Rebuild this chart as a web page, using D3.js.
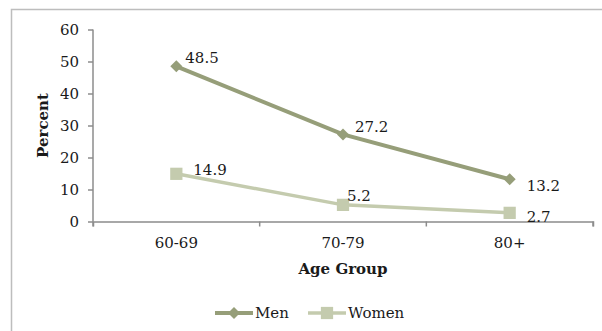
<!DOCTYPE html>
<html lang="en">
<head>
    <meta charset="UTF-8">
    <title>Percent by age group</title>
    <style>
        body { margin: 0; background: #fff; }
        text { font-family: 'DejaVu Serif', Georgia, serif; fill: #1a1a1a; }
        .axis path, .axis line { stroke: #8c8c8c; stroke-width: 1.5; fill: none; }
        .axis text { font-size: 15px; fill: #1a1a1a; }
    </style>
</head>
<body>
    <div id='chart'></div>

    <script src='https://cdnjs.cloudflare.com/ajax/libs/d3/7.8.5/d3.min.js'></script>
    <script type='text/javascript'>
        const ageGroups = ['60-69', '70-79', '80+'];
        const men = [48.5, 27.2, 13.2];
        const women = [14.9, 5.2, 2.7];
        const yTicks = [0, 10, 20, 30, 40, 50, 60];

        const width = 602;
        const height = 331;
        const margin = { top: 29.5, left: 93, right: 9, bottom: 109.5 };
        const plotW = width - margin.left - margin.right;
        const plotH = height - margin.top - margin.bottom;

        let svg = d3.select('#chart')
                    .append('svg')
                      .attr('width', width)
                      .attr('height', height);

        // outer chart frame (runs off the right and bottom edges)
        svg.append('rect')
             .attr('x', 11.5)
             .attr('y', 9.5)
             .attr('width', width + 20)
             .attr('height', height + 20)
             .attr('fill', 'none')
             .attr('stroke', '#bdbdbd')
             .attr('stroke-width', 1.5);

        let viz = svg.append('g')
                      .attr('transform', `translate(${margin.left}, ${margin.top})`);

        let xScale = d3.scaleBand().domain(ageGroups).range([0, plotW]);
        let yScale = d3.scaleLinear().domain([0, 60]).range([plotH, 0]);

        let xAxis = d3.axisBottom(xScale).tickSize(5).tickSizeOuter(5).tickFormat(() => '');
        let yAxis = d3.axisLeft(yScale).tickValues(yTicks).tickSize(5).tickSizeOuter(0);

        // X axis: ticks sit on band boundaries, labels at band centres
        let gx = viz.append('g')
             .attr('class', 'axis x-axis')
             .attr('transform', `translate(0, ${plotH})`)
             .call(xAxis);
        gx.selectAll('.tick').remove();
        const bounds = ageGroups.map(d => xScale(d)).concat([plotW]);
        gx.selectAll('line.bound')
            .data(bounds)
            .enter()
          .append('line')
            .attr('class', 'bound')
            .attr('x1', d => d).attr('x2', d => d)
            .attr('y1', 0).attr('y2', 5);
        gx.selectAll('text.lab')
            .data(ageGroups)
            .enter()
          .append('text')
            .attr('class', 'lab')
            .attr('x', d => xScale(d) + xScale.bandwidth() / 2)
            .attr('y', 26)
            .attr('text-anchor', 'middle')
            .text(d => d);

        let gy = viz.append('g')
             .attr('class', 'axis y-axis')
             .call(yAxis);
        gy.select('.domain').remove();
        gy.append('line').attr('x1', 0).attr('x2', 0).attr('y1', 0).attr('y2', plotH);
        gy.selectAll('.tick text').attr('x', -14);

        // axis titles
        viz.append('text')
             .attr('x', plotW / 2)
             .attr('y', plotH + 52)
             .attr('text-anchor', 'middle')
             .style('font-size', '15px')
             .style('font-weight', 'bold')
             .text('Age Group');
        viz.append('text')
             .attr('transform', `translate(${-45}, ${plotH / 2}) rotate(-90)`)
             .attr('text-anchor', 'middle')
             .style('font-size', '15px')
             .style('font-weight', 'bold')
             .text('Percent');

        const cx = d => xScale(d) + xScale.bandwidth() / 2;
        // the diamond is a square turned 45 degrees
        const series = [
            { name: 'Men', values: men, color: '#969e79', width: 4, symbol: d3.symbolSquare, size: 72, rot: 45,
              dx: [9, 12, 17], dy: [-9, -8, 6] },
            { name: 'Women', values: women, color: '#c4cbae', width: 3.5, symbol: d3.symbolSquare, size: 150, rot: 0,
              dx: [17, 4, 17], dy: [-4, -9, 4] }
        ];

        const line = d3.line().x((d, i) => cx(ageGroups[i])).y(d => yScale(d));

        series.forEach(s => {
            viz.append('path')
                 .datum(s.values)
                 .attr('d', line)
                 .attr('fill', 'none')
                 .attr('stroke', s.color)
                 .attr('stroke-width', s.width);

            viz.selectAll(null)
                 .data(s.values)
                 .enter()
               .append('path')
                 .attr('d', d3.symbol().type(s.symbol).size(s.size))
                 .attr('transform', (d, i) => `translate(${cx(ageGroups[i])}, ${yScale(d)}) rotate(${s.rot})`)
                 .attr('fill', s.color);

            viz.selectAll(null)
                 .data(s.values)
                 .enter()
               .append('text')
                 .attr('x', (d, i) => cx(ageGroups[i]) + s.dx[i])
                 .attr('y', (d, i) => yScale(d) + s.dy[i])
                 .attr('dy', '0.35em')
                 .style('font-size', '15px')
                 .text(d => d.toFixed(1));
        });

        // legend
        let legend = svg.append('g').attr('transform', 'translate(0, 313)');
        const legendX = [215, 308];
        series.forEach((s, i) => {
            let g = legend.append('g').attr('transform', `translate(${legendX[i]}, 0)`);
            g.append('line').attr('x1', 0).attr('x2', 38).attr('y1', 0).attr('y2', 0)
               .attr('stroke', s.color).attr('stroke-width', s.width);
            g.append('path')
               .attr('d', d3.symbol().type(s.symbol).size(s.size))
               .attr('transform', `translate(19, 0) rotate(${s.rot})`)
               .attr('fill', s.color);
            g.append('text')
               .attr('x', 40)
               .attr('dy', '0.35em')
               .style('font-size', '15px')
               .text(s.name);
        });
    </script>
</body>
</html>
